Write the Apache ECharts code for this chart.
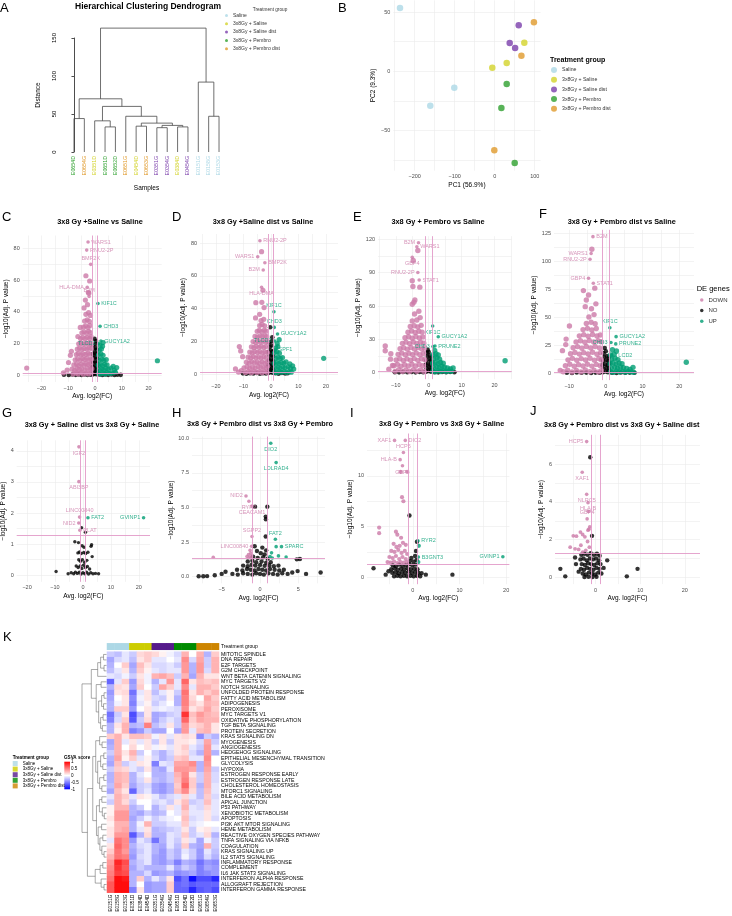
<!DOCTYPE html>
<html>
<head>
<meta charset="utf-8">
<script src="https://cdn.jsdelivr.net/npm/echarts@6/dist/echarts.min.js"></script>
<style>
  html, body { margin: 0; padding: 0; background: #fff; }
  #chart { width: 732px; height: 916px; }
</style>
</head>
<body>
<div id="chart"></div>
<script>
// ---------- shared ----------
const groupNames = ['Saline', '3x8Gy + Saline', '3x8Gy + Saline dist', '3x8Gy + Pembro', '3x8Gy + Pembro dist'];
const groupColors = ['#add8e6', '#d3d32b', '#7b3fab', '#2ea02e', '#e09a2c'];
const annoColors = ['#add8e6', '#cdcd00', '#551a8b', '#008b00', '#cd8500'];
const PINK = '#cc79a7';
const GREEN = '#009e73';
const FONT = '"Liberation Sans", Arial, sans-serif';

// ---------- A: dendrogram ----------
const dendroSamples = ['E0654D', 'E0654G', 'E0351D', 'E0651D', 'E0652D', 'E0651G', 'E0454D', 'E0653G',
  'E0351G', 'E0354G', 'E0384D', 'E0454G', 'E0151G', 'E0158G', 'E0153G'];
const dendroGroups = [3, 4, 1, 3, 3, 4, 1, 4, 2, 2, 1, 2, 0, 0, 0];
// [height, left, right]; numbers are leaf positions
const dendroTree = [163,
  [70, [44, 0, 1], [60, [41, 2, [33, 3, 4]], [47, 5, [38, [34, 6, 7], [35, [32, 8, 9], [33, 10, 11]]]]]],
  [92, 12, [47, 13, 14]]];

// ---------- B: PCA ----------
const pcaSaline = [[-236.7, 53.4], [-101, -13.8], [-161, -29]];
const pcaSaline38 = [[-6, 3], [30, 7], [74, 24]];
const pcaSalineDist = [[60, 38.8], [37.5, 23.9], [51, 19.6]];
const pcaPembro = [[30, -10.7], [16.7, -30.9], [50, -77.3]];
const pcaPembroDist = [[98, 41.3], [66.7, 13.2], [-1, -66.6]];
const pcaTicksX = [-200, -100, 0, 100];
const pcaTicksY = [-50, 0, 50];

// ---------- C ----------
const cDown = [[-8.2,0.8],[-7.1,1.5],[-6.3,0.9],[-5.2,1.8],[-4.4,0.7],[-3.3,1.4],[-2.4,0.9],[-1.5,1.6],
  [-8.6,3.9],[-7.6,3.2],[-6.7,4.4],[-5.8,3.6],[-4.9,4.1],[-3.8,3.3],[-2.9,4.5],[-1.9,3.7],[-1.2,4.2],
  [-7.9,6.6],[-6.9,7.3],[-6.1,6.2],[-5.1,7.1],[-4.2,6.4],[-3.4,7.5],[-2.5,6.8],[-1.6,7.2],
  [-7.4,9.8],[-6.5,10.4],[-5.6,9.5],[-4.7,10.6],[-3.9,9.9],[-3.0,10.8],[-2.1,9.7],[-1.3,10.3],
  [-7.0,13.1],[-6.2,13.8],[-5.3,12.9],[-4.4,13.6],[-3.5,13.2],[-2.6,14.0],[-1.8,13.3],
  [-6.6,16.5],[-5.8,17.2],[-4.9,16.3],[-4.0,17.0],[-3.1,16.6],[-2.2,17.4],[-1.4,16.8],
  [-6.1,19.9],[-5.3,20.5],[-4.5,19.6],[-3.6,20.4],[-2.8,19.8],[-1.9,20.6],[-1.3,19.5],
  [-5.4,23.2],[-4.6,23.9],[-3.7,23.1],[-2.9,24.0],[-2.0,23.3],[-1.5,24.4],
  [-4.9,26.8],[-4.1,27.5],[-3.2,26.6],[-2.4,27.8],[-1.7,26.9],
  [-4.3,30.4],[-3.5,31.2],[-2.6,30.1],[-1.9,31.5],[-3.9,34.2],[-2.9,35.0],[-2.1,34.0],
  [-3.4,38.5],[-2.4,39.6],[-1.7,37.8],[-4.1,42.5],[-2.8,44.6],[-3.6,47.5],[-2.3,51.8],[-2.5,52.4],
  [-9.2,12.6],[-9.9,8.1],[-8.8,15.2],[-11.8,1.6],[-10.4,3.3],[-25.5,4.6],[-6.4,24.5],[-5.5,30.2],
  [-2.0,59.5],[-3.4,62.8]];
const cNo = [[-0.8,0.6],[-0.2,1.1],[0.5,0.7],[0.9,1.5],[-0.6,2.9],[0.1,3.4],[0.7,2.8],[-0.9,5.2],[-0.3,5.8],
  [0.4,5.1],[0.8,6.3],[-0.7,8.1],[0.0,8.7],[0.6,7.9],[-0.5,10.9],[0.2,11.5],[0.8,10.6],[-0.8,13.4],[-0.1,14.1],
  [0.5,13.6],[-0.4,16.4],[0.3,17.2],[0.7,16.1],[-0.6,19.1],[0.1,19.8],[0.4,21.6],[-0.2,23.0],
  [-11.6,0.4],[-9.8,0.2],[-8.4,0.5],[-7.2,0.3],[-6.1,0.6],[-5.0,0.2],[-3.9,0.5],[-2.8,0.3],[-1.7,0.4],
  [1.6,0.5],[2.7,0.2],[3.8,0.6],[4.9,0.3],[6.1,0.5],[7.3,0.2],[8.4,0.4],[9.6,0.3]];
const cUp = [[1.3,1.2],[2.1,0.8],[2.9,1.6],[3.8,0.9],[4.6,1.7],[5.5,1.1],[6.4,1.4],
  [1.5,3.6],[2.4,4.2],[3.2,3.4],[4.1,4.4],[5.0,3.7],[6.0,4.6],[1.2,6.4],[2.0,7.1],[2.8,6.2],[3.7,7.0],[4.5,6.6],
  [1.6,9.6],[2.5,10.2],[3.3,9.4],[4.2,10.0],[1.3,12.8],[2.2,13.5],[3.0,12.6],[1.6,15.9],[2.4,16.6],
  [1.9,18.9],[2.8,18.3],[7.2,3.2],[8.1,4.9],[7.6,2.0],[6.8,5.6],[23.3,9.2],[3.0,20.7]];
const cDownLab = [[-2.6,84.1,'WARS1'],[-3.1,79.0,'RNU2-2P'],[-1.6,70.0,'BMP2K'],[-2.9,55.6,'HLA-DMA'],[-2.2,49.7,'B2M']];
const cUpLab = [[1.1,45.3,'KIF1C'],[1.9,31.0,'CHD3'],[2.2,21.6,'GUCY1A2'],[1.4,20.0,'TLCD2']];

// ---------- D ----------
const dDown = [[-9.3,0.9],[-8.2,1.6],[-7.1,0.8],[-6.2,1.7],[-5.1,0.9],[-4.2,1.5],[-3.2,0.8],[-2.3,1.6],[-1.4,1.0],
  [-9.8,3.8],[-8.7,4.5],[-7.7,3.5],[-6.7,4.3],[-5.7,3.6],[-4.7,4.6],[-3.7,3.7],[-2.8,4.4],[-1.8,3.6],[-1.2,4.8],
  [-8.9,7.2],[-7.9,6.6],[-7.0,7.6],[-6.0,6.8],[-5.1,7.4],[-4.1,6.5],[-3.2,7.5],[-2.3,6.7],[-1.4,7.3],
  [-8.3,10.3],[-7.4,9.8],[-6.4,10.7],[-5.5,9.9],[-4.5,10.5],[-3.6,9.7],[-2.6,10.6],[-1.7,10.0],
  [-7.7,13.4],[-6.8,12.9],[-5.9,13.8],[-4.9,13.1],[-4.0,13.7],[-3.1,12.9],[-2.2,13.6],[-1.3,13.2],
  [-7.1,16.6],[-6.2,16.1],[-5.3,16.9],[-4.4,16.3],[-3.5,17.0],[-2.6,16.2],[-1.7,16.8],
  [-6.5,19.8],[-5.6,19.3],[-4.7,20.1],[-3.8,19.5],[-2.9,20.2],[-2.0,19.4],[-1.3,20.0],
  [-5.8,23.0],[-4.9,22.6],[-4.0,23.4],[-3.1,22.8],[-2.2,23.5],[-1.5,22.9],
  [-5.0,26.1],[-4.2,26.7],[-3.3,25.9],[-2.4,26.8],[-1.7,26.2],[-4.1,29.6],[-3.2,30.3],[-2.3,29.5],
  [-3.6,32.7],[-2.6,33.4],[-5.6,34.3],[-3.3,43.8],[-5.5,43.6],[-2.5,40.6],[-2.9,51.2],[-4.1,36.5],
  [-11.5,16.8],[-11.0,14.1],[-10.3,10.6],[-12.9,3.1],[-10.8,2.0],[-11.8,1.2],[-3.4,74.8]];
const dNo = [[-0.8,0.7],[-0.1,1.2],[0.6,0.8],[0.9,1.6],[-0.6,3.1],[0.2,3.6],[0.8,2.9],[-0.9,5.4],[-0.2,6.0],
  [0.5,5.3],[0.9,6.5],[-0.7,8.3],[0.1,8.9],[0.7,8.1],[-0.5,11.1],[0.3,11.7],[0.8,10.8],[-0.8,13.6],[0.0,14.3],
  [0.6,13.8],[-0.4,16.6],[0.3,17.4],[-0.6,19.3],[0.2,20.0],[0.5,22.4],[-0.3,28.6],
  [-10.2,0.4],[-8.9,0.2],[-7.6,0.5],[-6.4,0.3],[-5.2,0.6],[-4.0,0.2],[-2.9,0.5],[-1.8,0.3],
  [1.6,0.5],[2.8,0.2],[4.0,0.6],[5.2,0.3],[6.1,0.5]];
const dUp = [[1.3,1.1],[2.2,0.8],[3.0,1.7],[3.9,1.0],[4.8,1.6],[5.7,0.9],[6.6,1.4],[7.4,1.1],
  [1.6,3.7],[2.5,4.3],[3.4,3.5],[4.3,4.5],[5.2,3.8],[6.2,4.5],[7.1,3.4],[1.2,6.5],[2.1,7.2],[2.9,6.3],
  [3.8,7.1],[4.7,6.7],[5.5,7.4],[1.7,9.7],[2.6,10.3],[3.4,9.5],[4.2,10.1],[1.3,12.9],[2.2,13.6],[3.1,12.7],
  [1.8,16.0],[2.5,16.8],[2.3,18.6],[3.0,21.0],[7.9,5.0],[8.3,3.0],[6.9,6.2],[19.2,9.6]];
const dDownLab = [[-4.0,81.5,'RNU2-2P'],[-4.8,71.7,'WARS1'],[-2.2,68.0,'BMP2K'],[-2.8,63.6,'B2M'],[-3.4,53.0,'HLA-DMA']];
const dUpLab = [[1.1,38.1,'KIF1C'],[1.2,28.5,'CHD3'],[2.4,24.5,'GUCY1A2'],[1.4,20.2,'TLCD2'],[1.6,14.8,'SPF1']];

// ---------- E ----------
const eDown = [[-10.2,1.2],[-9.1,2.6],[-8.0,1.0],[-6.9,2.4],[-5.8,1.1],[-4.7,2.7],[-3.6,1.3],[-2.5,2.5],[-1.4,1.1],
  [-10.6,6.3],[-9.5,7.5],[-8.4,5.8],[-7.3,7.2],[-6.2,6.1],[-5.1,7.6],[-4.0,6.0],[-2.9,7.4],[-1.8,6.2],
  [-9.9,11.4],[-8.8,12.6],[-7.7,11.0],[-6.6,12.4],[-5.5,11.2],[-4.4,12.7],[-3.3,11.1],[-2.2,12.5],[-1.2,11.6],
  [-9.3,16.5],[-8.2,17.6],[-7.1,16.2],[-6.0,17.4],[-4.9,16.3],[-3.8,17.7],[-2.7,16.1],[-1.6,17.3],
  [-8.7,21.6],[-7.6,22.5],[-6.5,21.2],[-5.4,22.7],[-4.3,21.4],[-3.2,22.6],[-2.1,21.3],[-1.3,22.2],
  [-8.0,26.4],[-6.9,27.5],[-5.8,26.2],[-4.7,27.6],[-3.6,26.3],[-2.5,27.4],[-1.5,26.6],
  [-7.2,31.5],[-6.1,32.4],[-5.0,31.1],[-3.9,32.6],[-2.8,31.3],[-1.8,32.2],
  [-6.3,36.4],[-5.2,37.5],[-4.1,36.2],[-3.0,37.3],[-2.0,36.5],[-5.6,41.6],[-4.4,42.3],[-3.3,41.1],[-2.3,42.6],
  [-5.0,46.5],[-3.6,47.4],[-2.6,49.6],[-4.3,52.8],[-3.0,55.3],
  [-13.2,24.0],[-13.2,19.8],[-11.6,12.2],[-11.0,6.5],[-12.1,3.1],[-11.5,17.1],
  [-5.0,61.6],[-4.2,65.5],[-4.5,63.5],[-2.7,77.0],[-4.8,77.6],[-5.0,82.8],[-4.7,101.0],[-3.3,110.0]];
const eNo = [[-0.8,0.9],[-0.1,1.6],[0.6,1.0],[0.9,2.2],[-0.6,4.1],[0.2,4.8],[0.8,3.9],[-0.9,7.2],[-0.2,8.0],
  [0.5,7.1],[0.9,8.7],[-0.7,11.1],[0.1,11.9],[0.7,10.8],[-0.5,14.5],[0.3,15.4],[0.8,14.1],[-0.6,17.8],[0.0,18.6],
  [-0.3,20.5],[-10.3,0.5],[-9.0,0.3],[-7.8,0.7],[-6.5,0.4],[-5.2,0.6],[-4.0,0.3],[-2.8,0.6],[-1.7,0.4],
  [1.7,0.5],[2.9,0.3],[4.1,0.7],[5.3,0.4],[6.5,0.6],[7.8,0.4]];
const eUp = [[1.3,1.4],[2.1,0.9],[2.9,2.0],[3.7,1.1],[4.5,1.9],[5.3,1.0],[6.1,1.6],[6.9,1.2],
  [1.5,4.7],[2.4,5.5],[3.2,4.4],[4.0,5.7],[4.8,4.9],[5.7,4.2],[6.6,3.4],[7.4,4.3],[1.2,8.5],[2.0,9.4],
  [2.8,8.2],[3.6,9.2],[4.4,8.6],[1.6,12.5],[2.5,13.4],[3.3,12.2],[1.3,16.3],[2.2,17.0],[2.9,15.9],[1.8,20.1],
  [23.2,10.8]];
const eDownLab = [[-3.1,117.0,'B2M'],[-3.6,113.4,'WARS1'],[-5.0,103.8,'GBP4'],[-3.3,90.2,'RNU2-2P'],[-2.9,83.4,'STAT1']];
const eUpLab = [[1.2,42.0,'KIF1C'],[2.9,32.4,'GUCY1A2'],[1.9,24.0,'PRUNE2'],[1.3,23.5,'CHD3']];

// ---------- F ----------
const fDown = [[-11.6,1.3],[-10.4,2.8],[-9.2,1.1],[-8.0,2.6],[-6.8,1.2],[-5.6,2.9],[-4.4,1.4],[-3.2,2.7],[-2.0,1.2],[-1.2,2.4],
  [-11.0,6.8],[-9.8,8.0],[-8.6,6.3],[-7.4,7.7],[-6.2,6.5],[-5.0,8.1],[-3.8,6.4],[-2.6,7.9],[-1.5,6.7],
  [-10.3,12.0],[-9.1,13.3],[-7.9,11.6],[-6.7,13.1],[-5.5,11.8],[-4.3,13.4],[-3.1,11.7],[-1.9,13.2],[-1.2,11.9],
  [-9.6,17.4],[-8.4,18.6],[-7.2,17.1],[-6.0,18.4],[-4.8,17.2],[-3.6,18.7],[-2.4,17.0],[-1.4,18.3],
  [-8.9,22.8],[-7.7,23.8],[-6.5,22.4],[-5.3,24.0],[-4.1,22.6],[-2.9,23.9],[-1.7,22.5],
  [-8.1,28.0],[-6.9,29.1],[-5.7,27.7],[-4.5,29.2],[-3.3,27.9],[-2.1,29.0],[-1.3,28.2],
  [-7.2,33.4],[-6.0,34.5],[-4.8,33.1],[-3.6,34.6],[-2.4,33.3],[-1.5,34.2],
  [-6.2,39.0],[-5.0,40.1],[-3.8,38.7],[-2.6,40.0],[-5.3,44.5],[-4.0,45.6],[-2.9,44.2],[-4.6,50.2],[-3.2,52.4],
  [-3.9,57.6],[-2.7,62.0],[-9.9,42.2],[-10.8,30.5],[-12.4,2.5],[-11.8,20.2],[-10.9,25.6],
  [-6.1,73.8],[-4.7,69.9],[-5.3,65.4],[-3.8,110.7],[-3.0,76.0],[-5.6,59.5]];
const fNo = [[-0.8,0.9],[-0.1,1.6],[0.6,1.0],[0.9,2.2],[-0.6,4.1],[0.2,4.8],[0.8,3.9],[-0.9,7.2],[-0.2,8.0],
  [0.5,7.1],[0.9,8.7],[-0.7,11.1],[0.1,11.9],[0.7,10.8],[-0.5,14.5],[0.3,15.4],[0.8,14.1],[-0.6,17.8],[0.0,19.6],
  [-0.3,22.5],[-10.6,0.5],[-9.2,0.3],[-7.9,0.7],[-6.6,0.4],[-5.3,0.6],[-4.0,0.3],[-2.8,0.6],[-1.7,0.4],
  [1.7,0.5],[2.9,0.3],[4.1,0.7],[5.3,0.4],[6.5,0.6],[7.8,0.4]];
const fUp = [[1.3,1.4],[2.1,0.9],[2.9,2.0],[3.7,1.1],[4.5,1.9],[5.3,1.0],[6.1,1.6],[6.9,1.2],[7.6,0.8],
  [1.5,4.7],[2.4,5.5],[3.2,4.4],[4.0,5.7],[4.8,4.9],[5.7,4.2],[6.6,3.4],[7.4,5.3],[1.2,8.5],[2.0,9.4],
  [2.8,8.2],[3.6,9.2],[4.4,8.6],[1.6,12.5],[2.5,13.4],[3.3,12.2],[1.3,16.3],[2.2,17.0],[2.9,19.9],[1.8,21.1],
  [21.9,9.8]];
const fDownLab = [[-3.5,122.0,'B2M'],[-4.0,107.0,'WARS1'],[-4.3,101.8,'RNU2-2P'],[-4.7,84.8,'GBP4'],[-3.4,80.4,'STAT1']];
const fUpLab = [[1.1,40.7,'KIF1C'],[2.8,32.7,'GUCY1A2'],[2.7,26.2,'PRUNE2'],[1.4,27.5,'CHD3'],[1.6,16.0,'TLCD2']];

// ---------- G ----------
const gDown = [];
const gNo = [[-0.5,1.53],[0.9,1.38],[-2.9,1.08],[-1.6,1.05],[2.9,0.93],[3.1,0.98],[-0.3,0.95],[0.4,0.9],
  [-1.8,0.72],[-1.2,0.75],[-0.6,0.7],[0.3,0.73],[1.0,0.7],[1.8,0.74],[3.3,0.6],
  [-1.5,0.5],[-0.9,0.45],[-0.2,0.5],[0.6,0.42],[1.4,0.48],
  [-2.4,0.3],[-1.7,0.25],[-1.0,0.3],[-0.4,0.22],[0.2,0.32],[0.9,0.25],[1.6,0.28],[2.4,0.2],
  [-9.6,0.12],[-5.3,0.05],[-4.2,0.08],[-3.3,0.05],[-2.7,0.1],[-2.0,0.06],[-1.3,0.1],[-0.7,0.04],[0.0,0.08],
  [0.7,0.05],[1.3,0.1],[2.0,0.04],[2.8,0.08],[3.6,0.05],[4.5,0.06],[5.6,0.05]];
const gUp = [];
const gDownLab = [[-1.43,4.13,'IGF2'],[-1.45,3.01,'ABI3BP'],[-1.2,1.87,'LINC00840'],[-1.5,1.68,'NID2'],[-1.1,1.45,'PLAT']];
const gUpLab = [[1.8,1.85,'FAT2'],[21.7,1.85,'GVINP1']];

// ---------- H ----------
const hDown = [[-1.3,1.9],[-1.2,1.7],[-1.5,1.6],[-1.1,1.5],[-1.4,1.4],[-1.2,1.35],[-6.1,1.4],[-1.7,1.45]];
const hNo = [[-0.65,5.06],[0.95,5.06],[0.74,4.34],[0.76,4.15],[0.74,2.9],[-0.7,2.2],[0.3,2.1],[0.8,1.9],[-0.4,1.85],
  [0.1,1.7],[0.6,1.6],[-0.9,1.45],[-0.3,1.35],[0.4,1.4],[1.0,1.3],[-1.6,1.1],[-1.0,1.15],[-0.5,1.05],[0.2,1.1],
  [0.8,1.0],[1.4,1.05],[-2.2,0.8],[-1.6,0.75],[-1.1,0.85],[-0.6,0.8],[0.0,0.85],[0.6,0.78],[1.2,0.82],[1.8,0.76],
  [2.4,0.8],[-3.0,0.5],[-2.3,0.45],[-1.7,0.55],[-1.2,0.5],[-0.7,0.45],[-0.2,0.55],[0.3,0.5],[0.8,0.45],[1.3,0.55],
  [1.9,0.5],[2.5,0.45],[3.1,0.5],[-3.6,0.2],[-2.9,0.15],[-2.2,0.25],[-1.6,0.2],[-1.0,0.15],[-0.5,0.25],[0.0,0.2],
  [0.5,0.15],[1.1,0.25],[1.7,0.2],[2.3,0.15],[2.9,0.25],[3.6,0.2],[4.2,0.3],[-4.5,0.35],[4.9,0.4],[5.2,1.28],
  [4.8,1.25],[7.9,0.3],[-8.0,0.03],[-7.4,0.03],[-6.9,0.04],[-5.9,0.1],[-5.0,0.2],[6.0,0.2]];
const hUp = [[2.1,2.17],[1.3,1.45],[3.4,1.42],[2.4,1.5],[1.6,1.35],[1.5,1.72]];
const hDownLab = [[-1.83,5.83,'NID2'],[-1.45,5.45,'RYR2'],[-1.05,5.1,'CEACAM1'],[-1.05,2.9,'SGPP2'],[-1.1,2.2,'LINC00840']];
const hUpLab = [[1.4,9.64,'DIO2'],[2.1,8.24,'LDLRAD4'],[2.0,2.7,'FAT2'],[2.8,2.17,'SPARC']];

// ---------- I ----------
const iDown = [[-2.6,10.4],[-1.2,10.4],[-2.3,7.9],[-2.0,7.5],[-7.2,4.9],[-7.2,4.35],[-3.6,4.5],[-3.3,4.2],[-2.5,3.9],
  [-4.1,3.3],[-3.5,3.0],[-2.8,3.1],[-2.1,3.4],[-1.5,3.2],[-4.6,2.6],[-3.9,2.5],[-3.1,2.7],[-2.4,2.4],[-1.7,2.6],
  [-1.2,2.3],[-5.0,2.0],[-4.3,1.9],[-3.6,2.1],[-2.9,1.8],[-2.2,2.0],[-1.5,1.8],[-5.4,1.5],[-4.7,1.45],[-4.0,1.55],
  [-3.3,1.4],[-2.6,1.5],[-1.9,1.45],[-1.2,1.5]];
const iNo = [[-0.7,6.1],[-4.3,1.2],[-3.6,1.1],[-2.9,1.25],[-2.2,1.15],[-1.5,1.2],[-0.8,1.3],[-0.1,1.2],[0.6,1.25],
  [-4.6,0.8],[-3.9,0.9],[-3.2,0.75],[-2.5,0.85],[-1.8,0.8],[-1.1,0.9],[-0.4,0.8],[0.3,0.85],[1.0,0.8],
  [-4.4,0.45],[-3.7,0.5],[-3.0,0.4],[-2.3,0.5],[-1.6,0.45],[-0.9,0.55],[-0.2,0.45],[0.5,0.5],[1.2,0.45],[1.9,0.4],
  [-4.0,0.1],[-3.3,0.15],[-2.6,0.1],[-1.9,0.15],[-1.2,0.1],[-0.5,0.15],[0.2,0.1],[0.9,0.15],[1.6,0.1],
  [-0.6,1.6],[0.2,1.55],[0.8,1.7],[-0.3,1.9],[0.5,2.1],[0.7,2.6],[0.9,3.5],
  [8.5,0.26],[-8.4,0.9],[-5.8,0.26],[2.8,0.26],[-5.2,0.6]];
const iUp = [[1.3,3.1],[1.2,1.5]];
const iDownLab = [[-3.9,13.5,'XAF1'],[-1.6,13.5,'DIO2'],[-2.0,12.3,'HCP5'],[-2.7,11.6,'HLA-B'],[-2.2,11.0,'GBP4']];
const iUpLab = [[1.1,3.6,'RYR2'],[1.2,2.0,'B3GNT3'],[19.3,2.03,'GVINP1']];

// ---------- J ----------
const jDown = [[-1.6,3.5],[-1.3,2.68],[-1.7,2.5],[-5.0,2.2],[-4.3,2.18],[-3.4,2.4],[-2.9,2.27],[-2.4,2.15],[-1.5,2.55],
  [-5.7,1.6],[-4.6,1.51],[-3.8,1.48],[-2.9,1.34],[-2.2,1.43],[-1.4,1.6],[-1.8,1.9],[-3.3,1.7]];
const jNo = [[-1.2,6.37],[-0.8,2.2],[-3.2,1.2],[-2.5,1.25],[-1.8,1.2],[-1.1,1.28],[-0.4,1.2],[0.3,1.25],[0.9,1.15],
  [-3.4,0.95],[-2.7,1.0],[-2.0,0.9],[-1.3,1.0],[-0.6,0.95],[0.1,1.0],[0.8,0.9],
  [-3.1,0.7],[-2.4,0.65],[-1.7,0.75],[-1.0,0.7],[-0.3,0.65],[0.4,0.75],[1.1,0.7],
  [-3.3,0.45],[-2.6,0.4],[-1.9,0.5],[-1.2,0.45],[-0.5,0.4],[0.2,0.5],[0.9,0.45],
  [-2.9,0.2],[-2.2,0.15],[-1.5,0.25],[-0.8,0.2],[-0.1,0.15],[0.6,0.25],[1.3,0.2],
  [-2.5,0.02],[-1.6,0.03],[-0.7,0.02],[0.2,0.03],
  [-7.9,0.45],[-6.8,0.05],[-4.4,0.7],[-4.6,1.05],[2.6,0.9],[7.0,0.05],[9.4,0.45],[-3.8,0.3],[1.8,0.5]];
const jUp = [];
const jDownLab = [[-2.0,7.2,'HCP5'],[-3.0,5.57,'XAF1'],[-2.0,4.4,'NLRC5'],[-1.7,3.96,'HLA-B'],[-1.9,3.1,'GBP4']];
const jUpLab = [];

const volcanoTitles = ['3x8 Gy +Saline vs Saline', '3x8 Gy +Saline dist vs Saline', '3x8 Gy + Pembro vs Saline',
  '3x8 Gy + Pembro dist vs Saline', '3x8 Gy + Saline dist vs 3x8 Gy + Saline', '3x8 Gy + Pembro dist vs 3x8 Gy + Pembro',
  '3x8 Gy + Pembro vs 3x8 Gy + Saline', '3x8 Gy + Pembro dist vs 3x8 Gy + Saline dist'];
const fcTicksWide = [-20, -10, 0, 10, 20];
const fcTicksMid = [-10, 0, 10, 20];
const fcTicksH = [-5, 0, 5];
const fcTicksRight = [0, 10, 20];
const pTicksC = [0, 20, 40, 60, 80];
const pTicksE = [0, 30, 60, 90, 120];
const pTicksF = [0, 25, 50, 75, 100, 125];
const pTicksG = [0, 1, 2, 3, 4];
const pTicksH = [0, 2.5, 5, 7.5, 10];
const pTicksI = [0, 5, 10];
const pTicksJ = [0, 2, 4, 6];
const pCut = 1.3;
const fcCut = [-1, 1];

// ---------- K: GSVA heatmap ----------
const heatSamples = ['E0151G', 'E0158G', 'E0153G', 'E0351D', 'E0384D', 'E0454D', 'E0351G', 'E0354G', 'E0454G',
  'E0651D', 'E0654D', 'E0652D', 'E0651G', 'E0654G', 'E0653G'];
const heatGroups = [0, 0, 0, 1, 1, 1, 2, 2, 2, 3, 3, 3, 4, 4, 4];
const gsvaPathways = ['MITOTIC SPINDLE', 'DNA REPAIR', 'E2F TARGETS', 'G2M CHECKPOINT', 'WNT BETA CATENIN SIGNALING',
  'MYC TARGETS V2', 'NOTCH SIGNALING', 'UNFOLDED PROTEIN RESPONSE', 'FATTY ACID METABOLISM', 'ADIPOGENESIS',
  'PEROXISOME', 'MYC TARGETS V1', 'OXIDATIVE PHOSPHORYLATION', 'TGF BETA SIGNALING', 'PROTEIN SECRETION',
  'KRAS SIGNALING DN', 'MYOGENESIS', 'ANGIOGENESIS', 'HEDGEHOG SIGNALING', 'EPITHELIAL MESENCHYMAL TRANSITION',
  'GLYCOLYSIS', 'HYPOXIA', 'ESTROGEN RESPONSE EARLY', 'ESTROGEN RESPONSE LATE', 'CHOLESTEROL HOMEOSTASIS',
  'MTORC1 SIGNALING', 'BILE ACID METABOLISM', 'APICAL JUNCTION', 'P53 PATHWAY', 'XENOBIOTIC METABOLISM',
  'APOPTOSIS', 'PI3K AKT MTOR SIGNALING', 'HEME METABOLISM', 'REACTIVE OXYGEN SPECIES PATHWAY',
  'TNFA SIGNALING VIA NFKB', 'COAGULATION', 'KRAS SIGNALING UP', 'IL2 STAT5 SIGNALING', 'INFLAMMATORY RESPONSE',
  'COMPLEMENT', 'IL6 JAK STAT3 SIGNALING', 'INTERFERON ALPHA RESPONSE', 'ALLOGRAFT REJECTION',
  'INTERFERON GAMMA RESPONSE'];
const gsvaScores = [
  [-0.2,-0.25,-0.1,-0.2,0.15,0.2,0.15,0.05,-0.05,-0.15,0.3,0,0.3,-0.3,0.2],
  [-0.35,-0.15,-0.1,-0.25,0.1,0.2,-0.1,-0.1,0,-0.1,0.45,-0.15,0.35,-0.2,0.3],
  [-0.3,0,0.2,-0.35,0.25,0.1,-0.15,-0.15,-0.1,-0.2,0.4,-0.3,0.4,-0.2,0.3],
  [-0.25,-0.1,0.1,-0.3,0.2,0.05,-0.1,-0.15,-0.1,-0.1,0.4,-0.3,0.4,-0.15,0.3],
  [-0.1,-0.15,-0.05,-0.2,0.1,-0.05,0.3,0.35,0.25,-0.2,0.3,-0.35,0.3,0.1,0.1],
  [-0.6,-0.1,0.2,-0.4,0.15,-0.05,-0.3,-0.1,0.4,-0.1,0.6,0.1,0.25,0.2,0.25],
  [-0.3,0.15,0.1,-0.35,0.2,0,-0.2,0.35,0.2,-0.1,0.45,-0.1,0.3,0.3,0.2],
  [-0.4,0.1,0.15,-0.55,-0.1,0.1,-0.25,-0.1,0.05,-0.2,0.55,0.1,0.3,0.2,0.3],
  [-0.35,0,0.1,-0.45,-0.05,0.1,-0.15,-0.2,0.05,-0.3,0.5,0.15,0,0.35,0.2],
  [-0.3,-0.05,0.1,-0.5,-0.1,0.05,-0.2,-0.1,0,-0.3,0.5,0.2,0.1,0.3,0.25],
  [-0.3,0.2,0.2,-0.4,0,0.1,-0.1,-0.05,-0.1,-0.15,0.45,0.1,0.2,0.35,0.2],
  [-0.55,-0.2,0.1,-0.7,-0.3,0.1,-0.35,-0.3,-0.2,-0.15,0.8,0.25,0.4,0.3,0.25],
  [-0.5,-0.15,0.2,-0.65,-0.2,0.15,-0.35,-0.2,-0.1,-0.2,0.6,0.2,0.35,0.3,0.3],
  [-0.3,0.1,0.3,-0.3,-0.25,0.5,-0.25,-0.15,0.1,-0.2,0.4,0.15,0.2,0.3,0.1],
  [-0.3,0.05,0.3,-0.5,-0.4,-0.2,-0.35,-0.35,0,-0.35,0.4,-0.1,0.25,0.3,0.1],
  [0.2,0.3,0.1,0.25,0.25,0.2,-0.05,0.1,-0.1,0.1,0.15,0.1,-0.45,-0.2,-0.3],
  [-0.35,0.3,-0.1,0.1,-0.1,0.1,-0.2,0.1,-0.2,0.1,0.1,0.05,-0.15,0.35,-0.2],
  [-0.3,0.3,0,0.15,0,0.1,-0.05,0.05,-0.1,0.1,0.2,-0.1,-0.2,0.4,-0.1],
  [-0.2,0.3,0.1,0.3,-0.2,0,-0.2,-0.3,-0.15,0.1,0.15,-0.15,-0.3,0.4,-0.3],
  [-0.3,0.35,0.05,0.2,-0.1,0.05,-0.15,-0.3,-0.2,0.2,0.25,-0.1,-0.1,0.45,0],
  [-0.35,0.25,-0.2,-0.1,0.1,0.05,-0.5,-0.1,-0.15,0.35,0.35,0.45,-0.3,0.4,0],
  [-0.2,0.2,0.15,-0.1,-0.2,0.1,-0.3,-0.35,-0.1,0.4,0.4,0.35,-0.3,0.35,-0.2],
  [-0.3,0.3,0.25,-0.3,-0.1,0,-0.3,-0.3,-0.2,0.3,0.45,0.1,-0.2,0.3,-0.15],
  [-0.3,0.3,0.25,-0.3,-0.15,0.1,-0.25,-0.3,-0.2,0.25,0.5,0.2,-0.2,0.3,-0.15],
  [-0.25,0.35,0.2,-0.35,-0.2,-0.15,-0.35,-0.4,-0.3,0.2,0.6,0.2,-0.3,0.3,-0.1],
  [-0.35,0.25,0.1,-0.6,-0.2,-0.1,-0.35,-0.4,-0.3,0.25,0.45,0.15,-0.25,0.25,-0.1],
  [-0.1,0.3,0.2,-0.1,0.1,0.05,-0.1,-0.25,-0.15,-0.1,0.15,-0.1,-0.25,0.2,-0.15],
  [-0.2,0.3,0.15,-0.2,0,0,-0.15,-0.1,-0.2,0.1,0.25,-0.2,-0.15,0.25,-0.1],
  [0.05,0.3,0.3,-0.3,-0.2,0,-0.3,-0.15,0.1,-0.1,0.3,-0.1,-0.15,0.15,-0.1],
  [0.05,0.4,0.4,-0.3,-0.35,-0.2,-0.3,-0.25,0,-0.1,0.2,-0.1,-0.1,0.1,-0.1],
  [0.1,0.4,0.4,-0.35,-0.2,-0.05,-0.2,-0.1,-0.05,0,0.25,-0.15,-0.1,0.1,-0.15],
  [0.05,0.3,0.3,-0.3,-0.05,0.3,-0.2,-0.2,-0.1,-0.1,0.2,-0.1,-0.05,0,0],
  [0.1,0.3,0.35,-0.3,-0.1,0.1,-0.3,-0.25,-0.2,-0.15,0.1,-0.2,0.05,0.1,-0.1],
  [0.1,0.4,0.4,-0.65,-0.3,0.15,-0.3,-0.3,-0.1,-0.15,0.2,-0.2,-0.1,0.15,-0.3],
  [-0.1,0.55,0.45,-0.4,-0.1,-0.2,-0.55,-0.3,-0.1,-0.2,0.1,-0.1,-0.35,-0.05,-0.2],
  [0.1,0.6,0.45,-0.3,-0.15,-0.1,-0.3,-0.35,-0.1,-0.25,0.2,-0.3,-0.35,0.3,-0.2],
  [0.2,0.55,0.4,-0.35,-0.2,-0.1,-0.3,-0.4,-0.2,-0.3,-0.1,-0.2,-0.4,-0.1,-0.25],
  [0.3,0.55,0.5,-0.4,-0.15,-0.1,-0.35,-0.4,-0.2,-0.3,-0.05,-0.2,-0.4,-0.15,-0.3],
  [0.4,0.85,0.7,-0.3,-0.2,-0.1,-0.35,-0.4,-0.3,-0.5,-0.3,-0.35,-0.55,-0.4,-0.45],
  [0.45,0.8,0.65,-0.35,-0.2,-0.3,-0.3,-0.3,-0.1,-0.35,-0.2,-0.3,-0.5,-0.35,-0.4],
  [0.5,0.75,0.7,-0.3,-0.3,-0.15,-0.4,-0.35,-0.3,-0.45,-0.4,-0.35,-0.5,-0.45,-0.4],
  [0.55,0.95,0.9,-0.3,0.2,-0.3,-0.1,-0.25,0.1,-0.7,-0.55,-0.95,-0.7,-0.7,-0.85],
  [0.65,0.95,0.95,-0.3,0,-0.4,-0.35,-0.35,0.2,-0.6,-0.55,-0.65,-0.6,-0.6,-0.6],
  [0.65,0.95,0.95,-0.5,0.1,-0.4,-0.35,-0.35,0.2,-0.6,-0.6,-0.85,-0.65,-0.6,-0.7]];
const gsvaRowTree = [1.0,
  [0.62,
    [0.36, [0.24, [0.12, 0, 1], [0.1, 2, 3]], 4],
    [0.42, [0.22, 5, 6], [0.32, [0.2, [0.1, 7, 8], [0.12, 9, 10]], [0.24, [0.14, 11, 12], [0.17, 13, 14]]]]],
  [0.78,
    [0.56,
      [0.44, [0.28, 15, [0.18, 16, 17]], [0.36, [0.24, [0.11, 18, 19], [0.15, 20, 21]], [0.28, [0.11, 22, 23], [0.19, 24, 25]]]],
      [0.41, [0.29, [0.19, 26, 27], [0.17, 28, [0.09, 29, 30]]], [0.34, [0.2, 31, 32], [0.27, [0.15, 33, 34], [0.19, 35, [0.1, 36, 37]]]]]],
    [0.46, [0.26, [0.15, 38, 39], 40], [0.22, 41, [0.1, 42, 43]]]]];
const gsvaLegendTicks = [1, 0.5, 0, -0.5, -1];

// ---------- helpers ----------
const minus = v => (v < 0 ? '\u2212' + Math.abs(v) : String(v));

function treeSegments(tree) {
  const segs = [];
  (function walk(node) {
    if (typeof node === 'number') return { pos: node, h: 0 };
    const a = walk(node[1]), b = walk(node[2]);
    segs.push([a.pos, a.h, b.pos, b.h, node[0]]);
    return { pos: (a.pos + b.pos) / 2, h: node[0] };
  })(tree);
  return segs;
}

function dendroRender(horizontal, color, width) {
  return function (params, api) {
    const v = [0, 1, 2, 3, 4].map(i => api.value(i));
    const pts = [[v[0], v[1]], [v[0], v[4]], [v[2], v[4]], [v[2], v[3]]]
      .map(p => api.coord(horizontal ? [p[1], p[0]] : p));
    return { type: 'polyline', shape: { points: pts }, style: { stroke: color, lineWidth: width, fill: 'none' } };
  };
}

// major ticks plus the half-way minor grid lines of ggplot
function gridValues(major, lo, hi) {
  const half = (major[1] - major[0]) / 2, out = [];
  for (let v = Math.ceil(lo / half) * half; v <= hi + 1e-9; v += half) out.push(+v.toFixed(6));
  return out;
}

const grid = [], xAxis = [], yAxis = [], series = [], graphic = [];

function addGrid(box) {
  grid.push({ left: box[0], top: box[1], width: box[2], height: box[3], containLabel: false, outerBoundsMode: 'none' });
  return grid.length - 1;
}

function ggAxis(gi, range, major, fmt, extra) {
  return Object.assign({
    gridIndex: gi, type: 'value', min: range[0], max: range[1],
    axisLine: { show: false },
    axisTick: { show: false, customValues: gridValues(major, range[0], range[1]) },
    axisLabel: { customValues: major, fontSize: 5.5, color: '#4d4d4d', margin: 3, formatter: fmt, fontFamily: FONT },
    splitLine: { show: true, lineStyle: { color: '#ebebeb', width: 0.6 } },
    nameLocation: 'middle', nameTextStyle: { fontSize: 6.5, color: '#000', fontFamily: FONT }
  }, extra);
}

function text(x, y, str, font, opts) {
  graphic.push({
    type: 'text', x: x, y: y, silent: true,
    style: Object.assign({ text: str, font: font, fill: '#000', textAlign: 'left', textVerticalAlign: 'middle' }, opts || {})
  });
}

function letter(x, y, l) { text(x, y, l, '13px ' + FONT); }

// ---------- A ----------
{
  const gi = addGrid([68.8, 38, 155.4, 114]);
  xAxis.push({
    gridIndex: gi, type: 'category', data: dendroSamples,
    axisLine: { show: false }, axisTick: { show: false }, splitLine: { show: false },
    axisLabel: { interval: 0, rotate: 90, fontSize: 5.3, margin: 4, fontFamily: FONT,
      color: (v, i) => groupColors[dendroGroups[i]] },
    name: 'Samples', nameLocation: 'middle', nameGap: 33, nameTextStyle: { fontSize: 6.5, color: '#000', fontFamily: FONT }
  });
  xAxis.push({ gridIndex: gi, type: 'value', min: -0.5, max: dendroSamples.length - 0.5, show: false });
  const xVal = xAxis.length - 1;
  yAxis.push({
    gridIndex: gi, type: 'value', min: 0, max: 150, interval: 50, offset: 8.8,
    axisLine: { show: true, lineStyle: { color: '#000', width: 0.7 } },
    axisTick: { show: true, length: 2.5, lineStyle: { color: '#000', width: 0.7 } },
    axisLabel: { rotate: 90, fontSize: 6, color: '#000', margin: 3, fontFamily: FONT },
    splitLine: { show: false },
    name: 'Distance', nameLocation: 'middle', nameGap: 18, nameTextStyle: { fontSize: 6.5, color: '#000', fontFamily: FONT }
  });
  series.push({
    type: 'custom', name: 'dendrogram', xAxisIndex: xVal, yAxisIndex: yAxis.length - 1, clip: false, silent: true,
    renderItem: dendroRender(false, '#4a4a4a', 0.8), data: treeSegments(dendroTree)
  });
  letter(0, 8, 'A');
  text(148, 7, 'Hierarchical Clustering Dendrogram', 'bold 8.5px ' + FONT, { textAlign: 'center' });
  text(270, 9.5, 'Treatment group', '4.7px ' + FONT, { textAlign: 'center', fill: '#333' });
}

// ---------- B ----------
{
  const gi = addGrid([393.3, 0.3, 147.3, 170.4]);
  xAxis.push(ggAxis(gi, [-253.4, 114.7], pcaTicksX, minus, { name: 'PC1 (56.9%)', nameGap: 11.5 }));
  yAxis.push(ggAxis(gi, [-83.8, 59.9], pcaTicksY, minus, { name: 'PC2 (9.3%)', nameGap: 14 }));
  const xi = xAxis.length - 1, yi = yAxis.length - 1;
  [pcaSaline, pcaSaline38, pcaSalineDist, pcaPembro, pcaPembroDist].forEach((d, k) => {
    series.push({ type: 'scatter', name: groupNames[k], xAxisIndex: xi, yAxisIndex: yi, data: d,
      symbolSize: 6.5, itemStyle: { color: groupColors[k] }, silent: true });
  });
  letter(338, 8, 'B');
  text(550, 60.5, 'Treatment group', 'bold 7px ' + FONT);
}

// ---------- C–J volcanoes ----------
// ds: size of the DOWN/UP dots, ns: size of the NO dots
const volcanoes = [
  { l: 'C', lp: [2, 217], tc: [100, 222], box: [22.7, 235.5, 139, 146.5], xr: [-27, 24.9], yr: [-4.2, 88.2], xt: fcTicksWide, yt: pTicksC, yGap: 10, ds: 5.2, ns: 4.6,
    down: cDown, no: cNo, up: cUp, downLab: cDownLab, upLab: cUpLab,
    side: { 'BMP2K': 'top', 'HLA-DMA': 'left', 'B2M': 'top', 'TLCD2': 'left' } },
  { l: 'D', lp: [172, 217], tc: [263, 222], box: [200, 234, 138, 146.7], xr: [-25.8, 24.4], yr: [-4.1, 85.6], xt: fcTicksWide, yt: pTicksC, yGap: 10, ds: 5.2, ns: 4.6,
    down: dDown, no: dNo, up: dUp, downLab: dDownLab, upLab: dUpLab,
    side: { 'WARS1': 'left', 'B2M': 'left', 'HLA-DMA': 'bottom', 'KIF1C': 'top', 'CHD3': 'top', 'TLCD2': 'left' } },
  { l: 'E', lp: [353, 217], tc: [438, 222], box: [378, 236.2, 133.7, 143], xr: [-15.4, 25.2], yr: [-5.85, 122.85], xt: fcTicksMid, yt: pTicksE, yGap: 12, ds: 5.4, ns: 4.6,
    down: eDown, no: eNo, up: eUp, downLab: eDownLab, upLab: eUpLab,
    side: { 'B2M': 'left', 'GBP4': 'bottom', 'RNU2-2P': 'left', 'KIF1C': 'bottom', 'CHD3': 'left' } },
  { l: 'F', lp: [539, 214], tc: [621.7, 222], box: [554, 229.8, 140, 150.3], xr: [-14.1, 24.0], yr: [-6.1, 128.1], xt: fcTicksMid, yt: pTicksF, yGap: 14, ds: 5.4, ns: 4.6,
    down: fDown, no: fNo, up: fUp, downLab: fDownLab, upLab: fUpLab,
    side: { 'WARS1': 'left', 'RNU2-2P': 'left', 'GBP4': 'left', 'KIF1C': 'top', 'CHD3': 'left' } },
  { l: 'G', lp: [2, 413], tc: [92, 424.7], box: [16.7, 440.3, 133.3, 141.5], xr: [-23.7, 24], yr: [-0.21, 4.34], xt: fcTicksWide, yt: pTicksG, yGap: 7, ds: 3.6, ns: 3.4,
    down: gDown, no: gNo, up: gUp, downLab: gDownLab, upLab: gUpLab,
    side: { 'IGF2': 'bottom', 'ABI3BP': 'bottom', 'LINC00840': 'top', 'NID2': 'left', 'GVINP1': 'left' } },
  { l: 'H', lp: [172, 413], tc: [260, 424], box: [192, 436.6, 133, 146.7], xr: [-8.87, 8.47], yr: [-0.48, 10.12], xt: fcTicksH, yt: pTicksH, yGap: 11, yFmt: v => v.toFixed(1), ds: 3.6, ns: 4.4,
    down: hDown, no: hNo, up: hUp, downLab: hDownLab, upLab: hUpLab,
    side: { 'NID2': 'left', 'RYR2': 'bottom', 'CEACAM1': 'bottom', 'SGPP2': 'top', 'LINC00840': 'left', 'DIO2': 'bottom', 'LDLRAD4': 'bottom', 'FAT2': 'top' } },
  { l: 'I', lp: [350, 413], tc: [441.7, 424], box: [367, 433.5, 142.4, 150.7], xr: [-9.8, 20.7], yr: [-0.68, 14.18], xt: fcTicksRight, yt: pTicksI, yGap: 9, ds: 4.2, ns: 4.4,
    down: iDown, no: iNo, up: iUp, downLab: iDownLab, upLab: iUpLab,
    side: { 'XAF1': 'left', 'HCP5': 'top', 'HLA-B': 'left', 'GBP4': 'bottom', 'GVINP1': 'left' } },
  { l: 'J', lp: [530, 411], tc: [621.7, 425], box: [555, 434.8, 145, 149.3], xr: [-9.1, 23.4], yr: [-0.36, 7.56], xt: fcTicksRight, yt: pTicksJ, yGap: 8, ds: 3.8, ns: 4.4,
    down: jDown, no: jNo, up: jUp, downLab: jDownLab, upLab: jUpLab,
    side: { 'HCP5': 'left', 'XAF1': 'bottom', 'NLRC5': 'bottom', 'HLA-B': 'bottom', 'GBP4': 'top' } }
];

function labelled(base, name, color, rows, side) {
  return Object.assign({}, base, {
    name: name, itemStyle: { color: color }, z: 4,
    data: rows.map(r => ({ value: [r[0], r[1]], name: r[2], label: { position: side[r[2]] || 'right' } })),
    label: { show: true, formatter: '{b}', fontSize: 5.5, color: color, distance: 1.5, fontFamily: FONT }
  });
}

volcanoes.forEach((p, k) => {
  const gi = addGrid(p.box);
  xAxis.push(ggAxis(gi, p.xr, p.xt, minus, { name: 'Avg. log2(FC)', nameGap: 11 }));
  yAxis.push(ggAxis(gi, p.yr, p.yt, p.yFmt || minus, { name: '\u2212log10(Adj. P value)', nameGap: p.yGap }));
  const base = { type: 'scatter', xAxisIndex: xAxis.length - 1, yAxisIndex: yAxis.length - 1, symbolSize: 3.6, silent: true };
  series.push(Object.assign({}, base, { name: 'NO', data: p.no, symbolSize: p.ns, itemStyle: { color: '#000' } }));
  series.push(Object.assign({}, base, { name: 'DOWN', data: p.down, symbolSize: p.ds, itemStyle: { color: PINK } }));
  series.push(Object.assign({}, base, { name: 'UP', data: p.up, symbolSize: p.ds, itemStyle: { color: GREEN } }));
  series.push(labelled(base, 'DOWN', PINK, p.downLab, p.side));
  series.push(labelled(base, 'UP', GREEN, p.upLab, p.side));
  series.push(Object.assign({}, base, {
    name: 'cut-off', data: [], z: 5,
    markLine: { silent: true, symbol: 'none', animation: false, label: { show: false },
      lineStyle: { color: '#e29bc8', width: 0.9, type: 'solid' },
      data: [{ yAxis: pCut }, { xAxis: fcCut[0] }, { xAxis: fcCut[1] }] }
  }));
  letter(p.lp[0], p.lp[1], p.l);
  text(p.tc[0], p.tc[1], volcanoTitles[k], 'bold 7.3px ' + FONT, { textAlign: 'center' });
});
text(696.7, 289.3, 'DE genes', '7.5px ' + FONT);

// ---------- K ----------
let heatSeriesIndex = 0;
{
  const ga = addGrid([107, 643.3, 112, 6.5]);
  xAxis.push({ gridIndex: ga, type: 'category', data: heatSamples, show: false });
  yAxis.push({ gridIndex: ga, type: 'category', data: ['Treatment group'], position: 'right',
    axisLine: { show: false }, axisTick: { show: false },
    axisLabel: { fontSize: 5, color: '#000', margin: 2, fontFamily: FONT } });
  series.push({ type: 'heatmap', name: 'annotation', xAxisIndex: xAxis.length - 1, yAxisIndex: yAxis.length - 1, silent: true,
    data: heatGroups.map((g, c) => ({ value: [c, 0, g], itemStyle: { color: annoColors[g] } })) });

  const gh = addGrid([107, 651.7, 112, 241]);
  xAxis.push({ gridIndex: gh, type: 'category', data: heatSamples,
    axisLine: { show: false }, axisTick: { show: false },
    axisLabel: { interval: 0, rotate: 90, fontSize: 4.6, color: '#000', margin: 2, fontFamily: FONT } });
  yAxis.push({ gridIndex: gh, type: 'category', data: gsvaPathways, inverse: true, position: 'right',
    axisLine: { show: false }, axisTick: { show: false },
    axisLabel: { interval: 0, fontSize: 5.2, color: '#000', margin: 2, fontFamily: FONT } });
  const heatData = [];
  gsvaScores.forEach((row, r) => row.forEach((v, c) => heatData.push([c, r, v])));
  series.push({ type: 'heatmap', name: 'GSVA score', xAxisIndex: xAxis.length - 1, yAxisIndex: yAxis.length - 1,
    data: heatData, silent: true });
  heatSeriesIndex = series.length - 1;

  const gd = addGrid([82, 651.7, 24.5, 241]);
  xAxis.push({ gridIndex: gd, type: 'value', min: 0, max: 1, inverse: true, show: false });
  yAxis.push({ gridIndex: gd, type: 'value', min: -0.5, max: gsvaPathways.length - 0.5, inverse: true, show: false });
  series.push({ type: 'custom', name: 'row tree', xAxisIndex: xAxis.length - 1, yAxisIndex: yAxis.length - 1,
    silent: true, clip: false, renderItem: dendroRender(true, '#555', 0.5), data: treeSegments(gsvaRowTree) });

  letter(3, 637, 'K');
  text(12.7, 757.7, 'Treatment group', 'bold 4.6px ' + FONT);
  text(64, 757.7, 'GSVA score', 'bold 4.6px ' + FONT);
  const barTop = 761.7, barH = 27.6;
  graphic.push({ type: 'rect', silent: true, shape: { x: 64.3, y: barTop, width: 5.7, height: barH },
    style: { fill: { type: 'linear', x: 0, y: 0, x2: 0, y2: 1,
      colorStops: [{ offset: 0, color: '#ff0000' }, { offset: 0.5, color: '#ffffff' }, { offset: 1, color: '#0000ff' }] } } });
  gsvaLegendTicks.forEach(v => text(71, barTop + (1 - v) / 2 * barH, String(v), '4.6px ' + FONT));
}

const option = {
  animation: false,
  backgroundColor: '#fff',
  textStyle: { fontFamily: FONT },
  grid: grid, xAxis: xAxis, yAxis: yAxis, series: series, graphic: graphic,
  visualMap: {
    show: false, type: 'continuous', min: -1, max: 1, seriesIndex: heatSeriesIndex, dimension: 2,
    inRange: { color: ['#0000ff', '#ffffff', '#ff0000'] }
  },
  legend: [
    { data: groupNames, left: 225, top: 13, orient: 'vertical', icon: 'circle', itemWidth: 3, itemHeight: 3, itemGap: 3.3,
      padding: 0, selectedMode: false, textStyle: { fontSize: 5, lineHeight: 5, color: '#333', fontFamily: FONT } },
    { data: groupNames, left: 551, top: 67, orient: 'vertical', icon: 'circle', itemWidth: 6, itemHeight: 6, itemGap: 3.7,
      padding: 0, selectedMode: false, textStyle: { fontSize: 5.2, lineHeight: 6, color: '#333', fontFamily: FONT } },
    { data: ['DOWN', 'NO', 'UP'], left: 700, top: 297, orient: 'vertical', icon: 'circle', itemWidth: 3.5, itemHeight: 3.5,
      itemGap: 4.6, padding: 0, selectedMode: false, textStyle: { fontSize: 6, lineHeight: 6, color: '#333', fontFamily: FONT } },
    { data: groupNames.map((n, i) => ({ name: n, itemStyle: { color: annoColors[i] } })), left: 12.7, top: 761,
      orient: 'vertical', icon: 'rect', itemWidth: 5, itemHeight: 5, itemGap: 0.6, padding: 0, selectedMode: false,
      textStyle: { fontSize: 4.5, lineHeight: 5, color: '#000', fontFamily: FONT } }
  ]
};

const chart = echarts.init(document.getElementById('chart'));
chart.setOption(option);
</script>
</body>
</html>
